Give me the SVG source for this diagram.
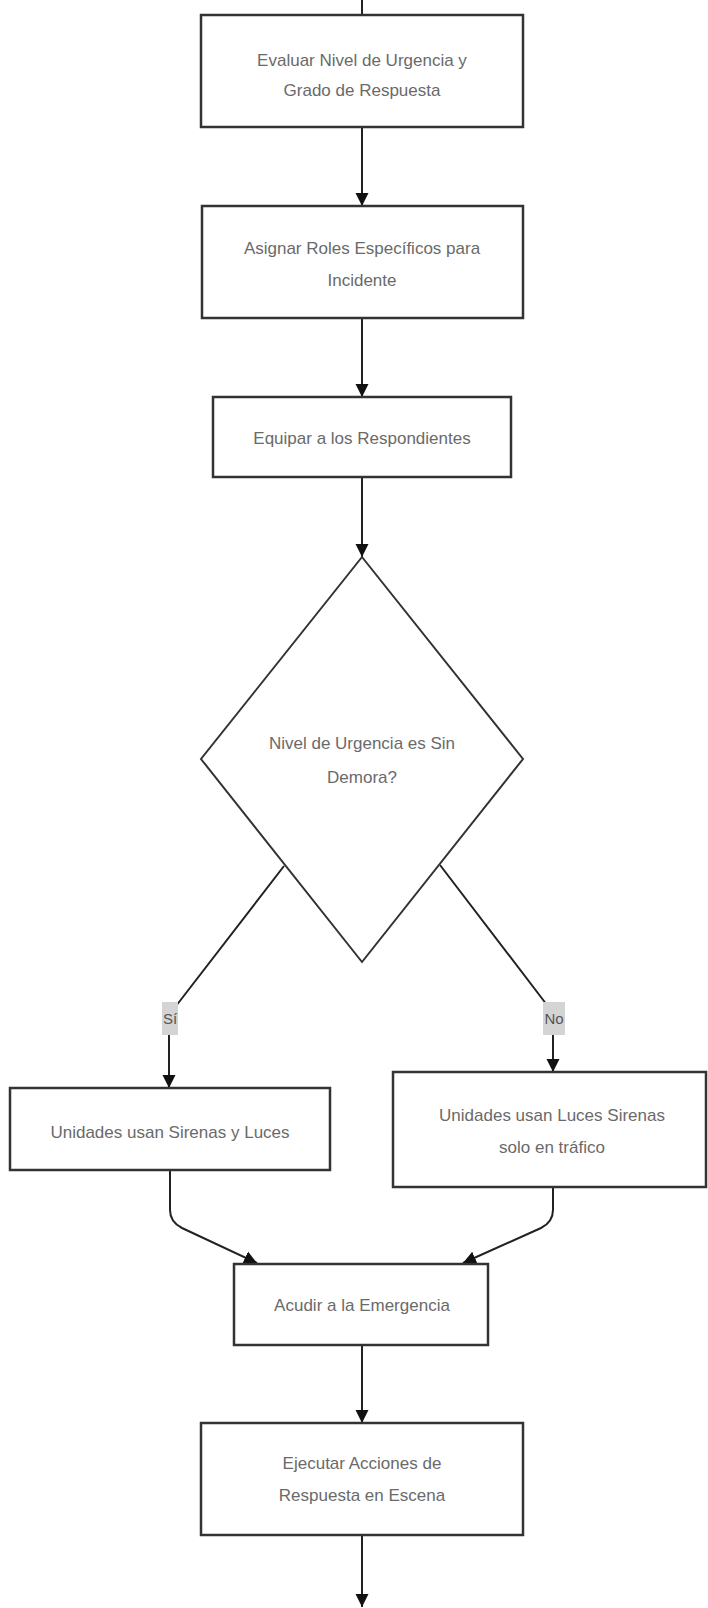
<svg xmlns="http://www.w3.org/2000/svg" width="708" height="1608" viewBox="0 0 708 1608">
<style>
.box{fill:#fff;stroke:#333;stroke-width:2.5}
.t{font-family:"Liberation Sans",Arial,sans-serif;font-size:17px;fill:#6a6a6a;text-anchor:middle}
.c{fill:none;stroke:#222;stroke-width:2}
.lb{fill:#d4d4d4}
.lt{font-family:"Liberation Sans",Arial,sans-serif;font-size:15px;fill:#555;text-anchor:middle}
</style>
<defs>
<marker id="ah" markerUnits="userSpaceOnUse" markerWidth="14" markerHeight="14" refX="13" refY="7" orient="auto">
<path d="M0,0.5 L13,7 L0,13.5 z" fill="#111"/>
</marker>
</defs>
<rect width="708" height="1608" fill="#fff"/>
<g id="connectors">
<path class="c" d="M362,0 L362,15"/>
<path class="c" d="M362,127 L362,206" marker-end="url(#ah)"/>
<path class="c" d="M362,318 L362,397" marker-end="url(#ah)"/>
<path class="c" d="M362,477 L362,557" marker-end="url(#ah)"/>
<path class="c" d="M284,866 L176,1006 Q169,1015 169,1026 L169,1088" marker-end="url(#ah)"/>
<path class="c" d="M440,865 L547,1005 Q553,1013 553,1024 L553,1072" marker-end="url(#ah)"/>
<path class="c" d="M170,1170 L170,1210 Q170,1222 182,1228 L257,1263" marker-end="url(#ah)"/>
<path class="c" d="M553,1187 L553,1210 Q553,1222 541,1228 L463,1263" marker-end="url(#ah)"/>
<path class="c" d="M362,1345 L362,1423" marker-end="url(#ah)"/>
<path class="c" d="M362,1535 L362,1607" marker-end="url(#ah)"/>
<g id="label-si">
<rect class="lb" x="162" y="1002" width="16" height="33"/>
<text class="lt" x="170" y="1024">Sí</text>
</g>
<g id="label-no">
<rect class="lb" x="543" y="1002" width="22" height="33"/>
<text class="lt" x="554" y="1024">No</text>
</g>
</g>
<g id="n1">
<rect class="box" x="201" y="15" width="322" height="112"/>
<text class="t" x="362" y="66">Evaluar Nivel de Urgencia y</text>
<text class="t" x="362" y="96">Grado de Respuesta</text>
</g>
<g id="n2">
<rect class="box" x="202" y="206" width="321" height="112"/>
<text class="t" x="362" y="254">Asignar Roles Específicos para</text>
<text class="t" x="362" y="286">Incidente</text>
</g>
<g id="n3">
<rect class="box" x="213" y="397" width="298" height="80"/>
<text class="t" x="362" y="444">Equipar a los Respondientes</text>
</g>
<g id="n4">
<polygon class="box" points="362,557 523,759 362,962 201,759" style="stroke-width:2"/>
<text class="t" x="362" y="749">Nivel de Urgencia es Sin</text>
<text class="t" x="362" y="783">Demora?</text>
</g>
<g id="n5">
<rect class="box" x="10" y="1088" width="320" height="82"/>
<text class="t" x="170" y="1138">Unidades usan Sirenas y Luces</text>
</g>
<g id="n6">
<rect class="box" x="393" y="1072" width="313" height="115"/>
<text class="t" x="552" y="1121">Unidades usan Luces Sirenas</text>
<text class="t" x="552" y="1153">solo en tráfico</text>
</g>
<g id="n7">
<rect class="box" x="234" y="1264" width="254" height="81"/>
<text class="t" x="362" y="1311">Acudir a la Emergencia</text>
</g>
<g id="n8">
<rect class="box" x="201" y="1423" width="322" height="112"/>
<text class="t" x="362" y="1469">Ejecutar Acciones de</text>
<text class="t" x="362" y="1501">Respuesta en Escena</text>
</g>
</svg>
